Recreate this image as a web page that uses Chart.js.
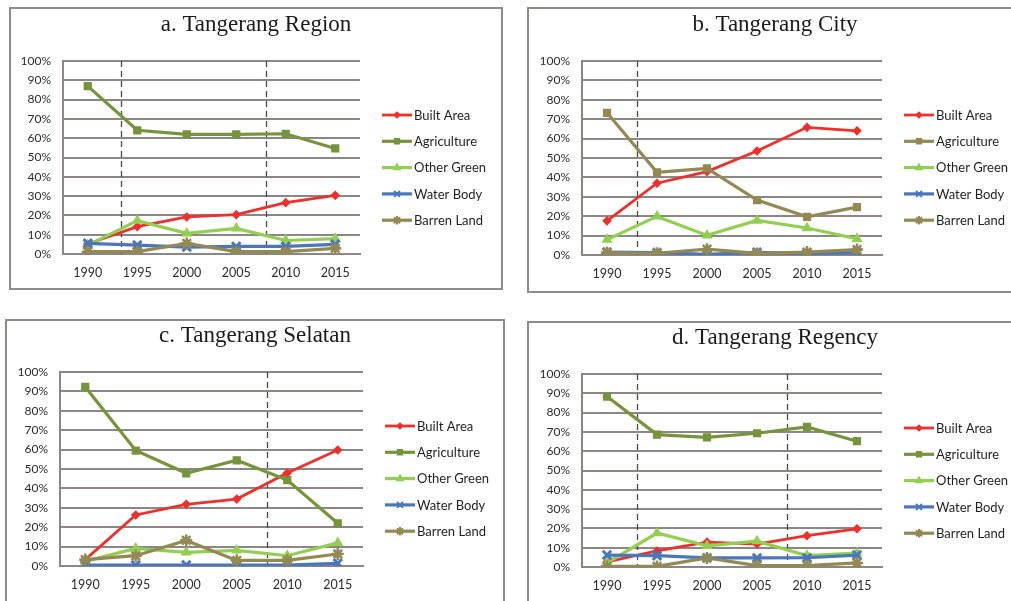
<!DOCTYPE html>
<html>
<head>
<meta charset="utf-8">
<script src="https://cdn.jsdelivr.net/npm/chart.js@4.4.1/dist/chart.umd.min.js"></script>
<style>
  html, body { margin: 0; padding: 0; background: #fff; width: 1011px; height: 601px; overflow: hidden; position: relative; }
  .panel { position: absolute; border: 2px solid #8f8b88; box-sizing: border-box; background: #fff; overflow: hidden; }
  .panel canvas { position: absolute; left: 0; top: 0; }
</style>
</head>
<body>
<div class="panel" style="left:9px;top:7px;width:494px;height:283px"><canvas id="chartA" width="490" height="279"></canvas></div>
<div class="panel" style="left:527px;top:7px;width:496px;height:286px"><canvas id="chartB" width="492" height="282"></canvas></div>
<div class="panel" style="left:5px;top:319px;width:500px;height:292px"><canvas id="chartC" width="496" height="288"></canvas></div>
<div class="panel" style="left:527px;top:321px;width:496px;height:290px"><canvas id="chartD" width="492" height="286"></canvas></div>

<script>
// Observation years and land-cover classes (share of total area, %)
const years = ['1990', '1995', '2000', '2005', '2010', '2015'];
const classes = ['Built Area', 'Agriculture', 'Other Green', 'Water Body', 'Barren Land'];
const yTicks = [0, 10, 20, 30, 40, 50, 60, 70, 80, 90, 100];

// a. Tangerang Region
const regionBuilt       = [5.2, 14.2, 19.2, 20.4, 26.6, 30.4];
const regionAgriculture = [87.0, 64.1, 62.0, 62.0, 62.3, 54.7];
const regionOtherGreen  = [4.5, 17.3, 10.7, 13.3, 7.0, 8.0];
const regionWater       = [5.5, 4.6, 3.6, 3.9, 3.9, 5.0];
const regionBarren      = [1.2, 1.2, 5.5, 1.2, 1.2, 2.9];
const regionBoundaries  = [1993.4, 2008];

// b. Tangerang City
const cityBuilt       = [17.6, 37.0, 43.0, 53.6, 65.8, 64.0];
const cityAgriculture = [73.3, 42.6, 44.7, 28.3, 19.7, 24.7];
const cityOtherGreen  = [7.9, 19.9, 10.1, 17.8, 13.9, 8.4];
const cityWater       = [1.5, 1.2, 0.3, 1.4, 0.8, 1.2];
const cityBarren      = [1.2, 0.9, 3.0, 0.8, 1.5, 2.8];
const cityBoundaries  = [1993];

// c. Tangerang Selatan
const selatanBuilt       = [3.3, 26.3, 31.8, 34.5, 47.9, 59.8];
const selatanAgriculture = [92.3, 59.5, 47.8, 54.5, 44.3, 22.0];
const selatanOtherGreen  = [2.4, 9.1, 7.0, 8.1, 5.3, 11.9];
const selatanWater       = [0.5, 0.5, 0.5, 0.5, 0.5, 1.4];
const selatanBarren      = [3.3, 5.3, 13.2, 2.9, 2.9, 6.2];
const selatanBoundaries  = [2008];

// d. Tangerang Regency
const regencyBuilt       = [2.6, 8.3, 12.9, 11.9, 16.2, 19.8];
const regencyAgriculture = [88.3, 68.6, 67.2, 69.3, 72.6, 65.2];
const regencyOtherGreen  = [2.1, 17.6, 11.0, 13.4, 5.9, 7.2];
const regencyWater       = [6.2, 5.9, 4.7, 4.7, 4.8, 6.2];
const regencyBarren      = [0.3, 0.3, 4.7, 0.7, 0.7, 2.1];
const regencyBoundaries  = [1993, 2008];

const UI_FONT = 'Lato, "Open Sans", sans-serif';
const GRID = '#8c8784';

// line / marker style for each land-cover class
const styleFor = [
  { color: '#ee2f2a', pointStyle: 'rectRot',  radius: 3.4, width: 2.8, pw: 2 },
  { color: '#77933c', pointStyle: 'rect',     radius: 4.4, width: 3.2, pw: 2 },
  { color: '#92cf50', pointStyle: 'triangle', radius: 4.4, width: 3.2, pw: 2 },
  { color: '#4a76bb', pointStyle: 'crossRot', radius: 6,   width: 3.2, pw: 3 },
  { color: '#938953', pointStyle: 'star',     radius: 6,   width: 3.2, pw: 2.6 }
];

// draws the title, boundary-year dashed lines and the legend
const decor = {
  id: 'decor',
  beforeDatasetsDraw(chart, args, opts) {
    const { ctx, chartArea: a, scales: { x } } = chart;
    const step = Number(years[1]) - Number(years[0]);
    ctx.save();
    ctx.strokeStyle = '#4a4a4a';
    ctx.lineWidth = 1.3;
    ctx.setLineDash([6, 4]);
    opts.boundaries.forEach(yr => {
      const px = Math.round(x.getPixelForValue((yr - Number(years[0])) / step)) + 0.5;
      ctx.beginPath();
      ctx.moveTo(px, a.top);
      ctx.lineTo(px, a.bottom);
      ctx.stroke();
    });
    ctx.restore();
  },
  afterDraw(chart, args, opts) {
    const { ctx, chartArea: a } = chart;
    ctx.save();
    ctx.fillStyle = '#1a1a1a';
    ctx.font = '23px "Liberation Serif", "Times New Roman", serif';
    ctx.textAlign = 'center';
    ctx.textBaseline = 'middle';
    ctx.fillText(opts.title, chart.width / 2, a.top - 36);

    ctx.font = '13px ' + UI_FONT;
    ctx.textAlign = 'left';
    chart.data.datasets.forEach((ds, i) => {
      const y = a.top + 54 + i * 26.3;
      const x0 = a.right + 22, x1 = a.right + 52;
      ctx.strokeStyle = ds.borderColor;
      ctx.fillStyle = ds.borderColor;
      ctx.lineWidth = ds.borderWidth;
      ctx.setLineDash([]);
      ctx.beginPath();
      ctx.moveTo(x0, y);
      ctx.lineTo(x1, y);
      ctx.stroke();
      ctx.lineWidth = 2;
      Chart.helpers.drawPoint(ctx, {
        pointStyle: ds.pointStyle, radius: ds.pointRadius * 0.7, rotation: 0, borderWidth: 2
      }, (x0 + x1) / 2, y);
      ctx.fillStyle = '#1f1f1f';
      ctx.fillText(ds.label, x1 + 2, y + 0.5);
    });
    ctx.restore();
  }
};

function makePanel(id, title, series, boundaries, box, agriColor) {
  const canvas = document.getElementById(id);
  const W = canvas.width, H = canvas.height;
  const datasets = classes.map((name, i) => {
    const s = styleFor[i];
    const color = (i === 1 && agriColor) ? agriColor : s.color;
    return {
      label: name,
      data: series[i],
      borderColor: color,
      backgroundColor: color,
      borderWidth: s.width,
      pointStyle: s.pointStyle,
      pointRadius: s.radius,
      pointHoverRadius: s.radius,
      pointBorderWidth: s.pw,
      pointBorderColor: color,
      pointBackgroundColor: color,
      tension: 0,
      order: classes.length - i
    };
  });
  new Chart(canvas, {
    type: 'line',
    data: { labels: years, datasets },
    options: {
      responsive: false,
      animation: false,
      events: [],
      layout: { padding: { left: 0, top: box.top, right: W - box.right, bottom: 0 } },
      plugins: {
        legend: { display: false },
        tooltip: { enabled: false },
        decor: { title, boundaries }
      },
      scales: {
        x: {
          type: 'category',
          offset: true,
          grid: { display: false, drawTicks: false },
          border: { display: true, color: GRID, width: 2 },
          ticks: { color: '#2b2b2b', font: { family: UI_FONT, size: 12.5 }, padding: 11, maxRotation: 0 },
          afterFit: s => { s.height = H - box.bottom; }
        },
        y: {
          min: 0, max: 100,
          afterBuildTicks: s => { s.ticks = yTicks.map(v => ({ value: v })); },
          grid: { color: GRID, lineWidth: 2, drawTicks: false },
          border: { display: true, color: GRID, width: 2 },
          ticks: {
            color: '#2b2b2b', font: { family: UI_FONT, size: 12 }, padding: 12,
            callback: v => v + '%'
          },
          afterFit: s => { s.width = box.left; }
        }
      }
    },
    plugins: [decor]
  });
}

makePanel('chartA', 'a. Tangerang Region',
  [regionBuilt, regionAgriculture, regionOtherGreen, regionWater, regionBarren],
  regionBoundaries, { left: 52, right: 349, top: 52, bottom: 245 });
makePanel('chartB', 'b. Tangerang City',
  [cityBuilt, cityAgriculture, cityOtherGreen, cityWater, cityBarren],
  cityBoundaries, { left: 53, right: 353, top: 52, bottom: 246 }, '#938953');
makePanel('chartC', 'c. Tangerang Selatan',
  [selatanBuilt, selatanAgriculture, selatanOtherGreen, selatanWater, selatanBarren],
  selatanBoundaries, { left: 53, right: 356, top: 51, bottom: 245 });
makePanel('chartD', 'd. Tangerang Regency',
  [regencyBuilt, regencyAgriculture, regencyOtherGreen, regencyWater, regencyBarren],
  regencyBoundaries, { left: 53, right: 353, top: 51, bottom: 244 });
</script>
</body>
</html>
